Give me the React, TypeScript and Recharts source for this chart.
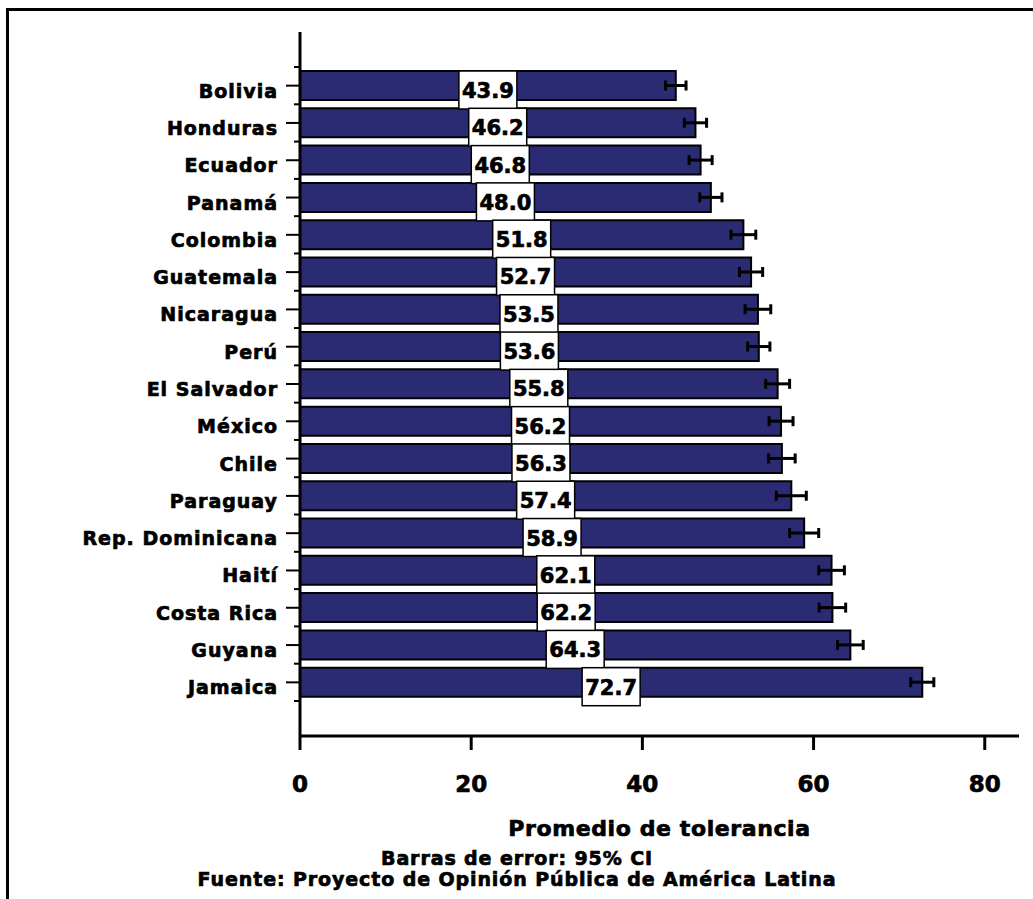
import React from "react";
import {
  BarChart,
  Bar,
  XAxis,
  YAxis,
  ErrorBar,
  LabelList,
} from "recharts";

const countries = [
  "Bolivia",
  "Honduras",
  "Ecuador",
  "Panamá",
  "Colombia",
  "Guatemala",
  "Nicaragua",
  "Perú",
  "El Salvador",
  "México",
  "Chile",
  "Paraguay",
  "Rep. Dominicana",
  "Haití",
  "Costa Rica",
  "Guyana",
  "Jamaica",
];

const tolerance = [
  43.9, 46.2, 46.8, 48.0, 51.8, 52.7, 53.5, 53.6, 55.8, 56.2, 56.3, 57.4, 58.9,
  62.1, 62.2, 64.3, 72.7,
];

// half-width of the 95% CI
const ci95 = [
  1.2, 1.3, 1.35, 1.3, 1.45, 1.35, 1.5, 1.3, 1.4, 1.4, 1.55, 1.75, 1.7, 1.5,
  1.55, 1.5, 1.35,
];

const xTicks = [0, 20, 40, 60, 80];

const FONT = "'DejaVu Sans', 'Liberation Sans', Arial, sans-serif";
const BAR_FILL = "#2b2b73";

// thin outline to make the bold text look heavier, like the original
const heavy = { stroke: "#000", strokeWidth: 0.7, paintOrder: "stroke" } as const;

const chartData = countries.map((country, i) => ({
  country,
  value: tolerance[i],
  ci: ci95[i],
}));

// category tick: label, plus the short tick at the band edges
const CountryTick = (props: any) => {
  const { x, y, payload, index, visibleTicksCount } = props;
  const axisX = x + 14 + 8;
  const half = payload?.offset || 18.65;
  return (
    <g>
      <text
        x={x}
        y={y}
        dy={12}
        textAnchor="end"
        fontFamily={FONT}
        fontWeight="bold"
        fontSize={19}
        letterSpacing={1}
        fill="#000"
        {...heavy}
      >
        {payload.value}
      </text>
      <line x1={axisX - 6} x2={axisX} y1={y - half} y2={y - half} stroke="#000" strokeWidth={2} />
      {index === visibleTicksCount - 1 && (
        <line x1={axisX - 6} x2={axisX} y1={y + half} y2={y + half} stroke="#000" strokeWidth={2} />
      )}
    </g>
  );
};

const ValueTick = (props: any) => {
  const { x, y, payload } = props;
  return (
    <text
      x={x}
      y={y}
      dy={17}
      textAnchor="middle"
      fontFamily={FONT}
      fontWeight="bold"
      fontSize={23}
      fill="#000"
      {...heavy}
    >
      {payload.value}
    </text>
  );
};

// white value box, centred on the middle of the bar
const renderValueBox = (props: any) => {
  const vb = props.viewBox || props;
  const x = vb.x ?? props.x;
  const y = vb.y ?? props.y;
  const width = vb.width ?? props.width;
  const cx = x + width / 2;
  const w = 58;
  const h = 38;
  return (
    <g>
      <rect x={cx - w / 2} y={y} width={w} height={h} fill="#fff" stroke="#000" strokeWidth={1.5} />
      <text
        x={cx}
        y={y + h / 2 + 8}
        textAnchor="middle"
        fontFamily={FONT}
        fontWeight="bold"
        fontSize={21}
        fill="#000"
        {...heavy}
      >
        {Number(props.value).toFixed(1)}
      </text>
    </g>
  );
};

const renderAxisTitle = (props: any) => {
  const { viewBox } = props;
  return (
    <text
      x={viewBox.x + viewBox.width / 2}
      y={viewBox.y + 100}
      textAnchor="middle"
      fontFamily={FONT}
      fontWeight="bold"
      fontSize={22}
      letterSpacing={0.6}
      fill="#000"
      {...heavy}
    >
      Promedio de tolerancia
    </text>
  );
};

export default function App() {
  return (
    <div
      style={{
        position: "absolute",
        left: 0,
        top: 0,
        width: 1033,
        height: 899,
        background: "#fff",
        overflow: "hidden",
      }}
    >
      <div
        style={{
          position: "absolute",
          left: 6,
          top: 8,
          width: 1040,
          height: 900,
          borderLeft: "3px solid #000",
          borderTop: "3px solid #000",
        }}
      />
      <div style={{ position: "absolute", left: 0, top: 0 }}>
        <BarChart
          layout="vertical"
          width={1033}
          height={899}
          data={chartData}
          margin={{ top: 32, right: 14, bottom: 103, left: 10 }}
          barCategoryGap={4}
        >
          <XAxis
            type="number"
            domain={[0, 84]}
            ticks={xTicks}
            allowDataOverflow
            height={60}
            axisLine={{ stroke: "#000", strokeWidth: 3 }}
            tickLine={{ stroke: "#000", strokeWidth: 3 }}
            tickSize={14}
            tickMargin={25}
            tick={<ValueTick />}
            label={{ content: renderAxisTitle }}
          />
          <YAxis
            type="category"
            dataKey="country"
            width={290}
            padding={{ top: 35, bottom: 35 }}
            axisLine={{ stroke: "#000", strokeWidth: 3 }}
            tickLine={{ stroke: "#000", strokeWidth: 2 }}
            tickSize={14}
            tickMargin={8}
            interval={0}
            tick={<CountryTick />}
          />
          <Bar
            dataKey="value"
            fill={BAR_FILL}
            stroke="#000"
            strokeWidth={2}
            isAnimationActive={false}
          >
            <ErrorBar
              dataKey="ci"
              direction="x"
              width={5}
              stroke="#000"
              strokeWidth={3}
              isAnimationActive={false}
            />
            <LabelList dataKey="value" content={renderValueBox} />
          </Bar>
        </BarChart>
      </div>
      <svg
        width={1033}
        height={60}
        style={{ position: "absolute", left: 0, top: 840 }}
      >
        <g
          fontFamily={FONT}
          fontWeight="bold"
          fontSize={19}
          letterSpacing={0.9}
          fill="#000"
          textAnchor="middle"
          {...heavy}
        >
          <text x={517} y={25}>Barras de error: 95% CI</text>
          <text x={517} y={46}>Fuente: Proyecto de Opinión Pública de América Latina</text>
        </g>
      </svg>
    </div>
  );
}
